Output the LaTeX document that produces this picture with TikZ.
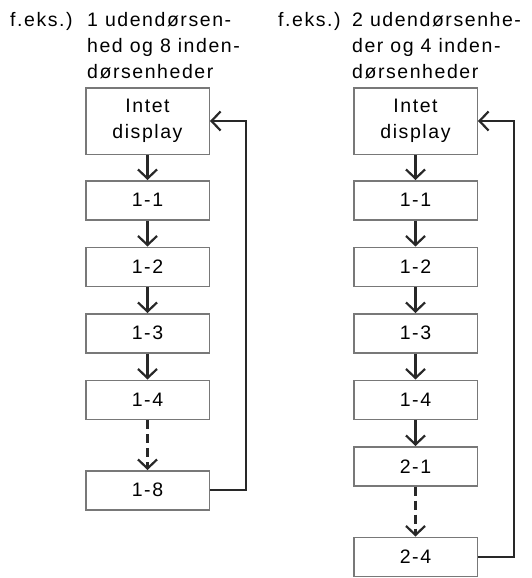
\documentclass[tikz,border=0pt]{standalone}
\usepackage{fontspec}
\setmainfont{Liberation Sans}[LetterSpace=8]
\usetikzlibrary{arrows.meta,positioning}
\definecolor{cFrame}{RGB}{120,120,120}
\definecolor{cLine}{RGB}{40,40,40}
\tikzset{
  unit/.style={draw=cFrame, line width=1.5pt, minimum width=123.5pt, minimum height=39pt,
               align=center, inner sep=2pt},
  nodisp/.style={unit, minimum height=66.5pt},
  ttl/.style={align=left, inner sep=0pt},
  arr/.style={-{Straight Barb[length=9pt, width=19pt]}, line width=2.2pt, draw=cLine},
  darr/.style={arr, dash pattern=on 9pt off 5pt},
}

\begin{document}
\begin{tikzpicture}[font=\fontsize{19.5pt}{25.7pt}\selectfont]
  \useasboundingbox (0,0) rectangle (532pt,-578pt);
  % ---- left: 1 outdoor unit, 8 indoor units ----
  \node[ttl, anchor=base west] (feksA) at (10pt,-26.7pt) {f.eks.)};
  \node[ttl, anchor=base west] (titleA) at (87pt,-78.1pt) {1 udendørsen-\\hed og 8 inden-\\dørsenheder};
  \node[nodisp] (a0) at (147.5pt,-121pt) {Intet\\display};
  \node[unit, below=25pt of a0] (a11) {1-1};
  \node[unit, below=26pt of a11] (a12) {1-2};
  \node[unit, below=26pt of a12] (a13) {1-3};
  \node[unit, below=26pt of a13] (a14) {1-4};
  \node[unit, below=50pt of a14] (a18) {1-8};
  \draw[arr] (a0) -- (a11);
  \draw[arr] (a11) -- (a12);
  \draw[arr] (a12) -- (a13);
  \draw[arr] (a13) -- (a14);
  \draw[darr] (a14) -- (a18);
  \draw[arr] (a18.east) -- ++(36pt,0) |- (a0.east);

  % ---- right: 2 outdoor units, 4 indoor units ----
  \node[ttl, anchor=base west] (feksB) at (278pt,-26.7pt) {f.eks.)};
  \node[ttl, anchor=base west] (titleB) at (352pt,-78.1pt) {2 udendørsenhe-\\der og 4 inden-\\dørsenheder};
  \node[nodisp] (b0) at (415.5pt,-121pt) {Intet\\display};
  \node[unit, below=25pt of b0] (b11) {1-1};
  \node[unit, below=26pt of b11] (b12) {1-2};
  \node[unit, below=26pt of b12] (b13) {1-3};
  \node[unit, below=26pt of b13] (b14) {1-4};
  \node[unit, below=26pt of b14] (b21) {2-1};
  \node[unit, below=50pt of b21] (b24) {2-4};
  \draw[arr] (b0) -- (b11);
  \draw[arr] (b11) -- (b12);
  \draw[arr] (b12) -- (b13);
  \draw[arr] (b13) -- (b14);
  \draw[arr] (b14) -- (b21);
  \draw[darr] (b21) -- (b24);
  \draw[arr] (b24.east) -- ++(36pt,0) |- (b0.east);
\end{tikzpicture}
\end{document}
